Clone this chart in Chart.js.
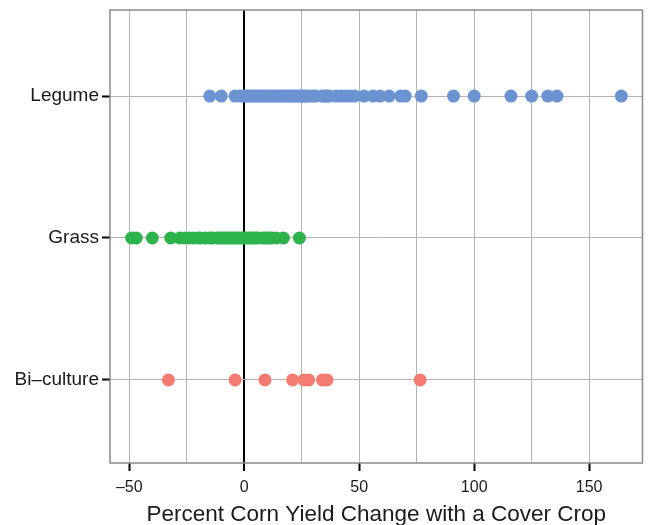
<!DOCTYPE html>
<html>
<head>
<meta charset="utf-8">
<script src="https://cdn.jsdelivr.net/npm/chart.js@4"></script>
<style>
  html, body { margin: 0; padding: 0; background: #fff; }
  #wrap { width: 649px; height: 525px; }
</style>
</head>
<body>
<div id="wrap"><canvas id="chart" width="649" height="525"></canvas></div>
<script>
"use strict";

// categories, top to bottom
const categories = ['Legume', 'Grass', 'Bi\u2013culture'];

// percent corn yield change
const legumeValues = [-15, -10, -4, -2, 0, 1, 2, 3, 4, 5, 6, 7, 8, 9, 10, 11, 12, 13, 14, 15,
  16, 17, 18, 19, 20, 21, 22, 23, 24, 25, 26, 27, 28, 30, 31, 34, 35, 36, 37, 40, 42, 44, 46,
  48, 52, 56, 59, 63, 68, 70, 77, 91, 100, 116, 125, 132, 136, 164];
const grassValues = [-49, -47, -40, -32, -28, -26, -24, -22, -20, -19, -17, -15, -14, -12, -11,
  -10, -9, -8, -7, -6, -5, -4, -3, -2, -1, 0, 1, 2, 3, 4, 5, 6, 8, 9, 10, 11, 12, 14, 17, 24];
const biValues = [-33, -4, 9, 21, 26, 28, 34, 36, 76.5];

const xTicks = [-50, -25, 0, 25, 50, 75, 100, 125, 150];
const xLabelled = [-50, 0, 50, 100, 150];

const colors = ['#6b93d2', '#2db34b', '#f37b6f'];
const seriesValues = [legumeValues, grassValues, biValues];

const fontFamily = "'Liberation Sans', Arial, sans-serif";

// frame round the plot area
const frame = {
  id: 'frame',
  beforeDatasetsDraw(chart) {
    const a = chart.chartArea;
    const ctx = chart.ctx;
    ctx.save();
    ctx.strokeStyle = '#8a8a8a';
    ctx.lineWidth = 1.5;
    ctx.strokeRect(a.left, a.top, a.right - a.left, a.bottom - a.top);
    ctx.restore();
  }
};

const datasets = seriesValues.map((vals, i) => ({
  label: categories[i],
  data: vals.map(v => ({ x: v, y: i + 1 })),
  backgroundColor: colors[i],
  borderColor: colors[i],
  borderWidth: 0,
  pointRadius: 6.5,
  pointHoverRadius: 6.5
}));

new Chart(document.getElementById('chart'), {
  type: 'scatter',
  data: { datasets: datasets },
  options: {
    responsive: false,
    animation: false,
    layout: { padding: { top: 10, right: 5, left: 0, bottom: 0 } },
    plugins: { legend: { display: false }, tooltip: { enabled: false } },
    scales: {
      x: {
        type: 'linear',
        min: -58.4,
        max: 173.2,
        afterBuildTicks: (s) => { s.ticks = xTicks.map(v => ({ value: v })); },
        afterFit: (s) => { s.height = 62; },
        border: { display: false },
        grid: {
          color: (c) => c.tick && c.tick.value === 0 ? '#000' : '#b4b4b4',
          lineWidth: (c) => c.tick && c.tick.value === 0 ? 2 : 1,
          tickColor: (c) => c.tick && xLabelled.includes(c.tick.value) ? '#000' : 'rgba(0,0,0,0)',
          tickWidth: 2,
          tickLength: 8
        },
        ticks: {
          autoSkip: false,
          maxRotation: 0,
          padding: 7,
          color: '#1a1a1a',
          font: { family: fontFamily, size: 16 },
          callback: (v) => xLabelled.includes(v) ? (v < 0 ? '\u2013' + Math.abs(v) : String(v)) : ''
        },
        title: {
          display: true,
          text: 'Percent Corn Yield Change with a Cover Crop',
          color: '#1a1a1a',
          font: { family: fontFamily, size: 22.5 },
          padding: { top: 4, bottom: -3 }
        }
      },
      y: {
        type: 'linear',
        reverse: true,
        min: 0.394,
        max: 3.585,
        afterBuildTicks: (s) => { s.ticks = categories.map((c, i) => ({ value: i + 1 })); },
        afterFit: (s) => { s.width = 110; s.paddingTop = 0; s.paddingBottom = 0; },
        border: { display: false },
        grid: {
          color: '#b4b4b4',
          lineWidth: 1,
          tickColor: '#000',
          tickWidth: 2,
          tickLength: 8
        },
        ticks: {
          padding: 3,
          color: '#1a1a1a',
          font: { family: fontFamily, size: 19 },
          callback: (v) => categories[v - 1] || ''
        }
      }
    }
  },
  plugins: [frame]
});
</script>
</body>
</html>
